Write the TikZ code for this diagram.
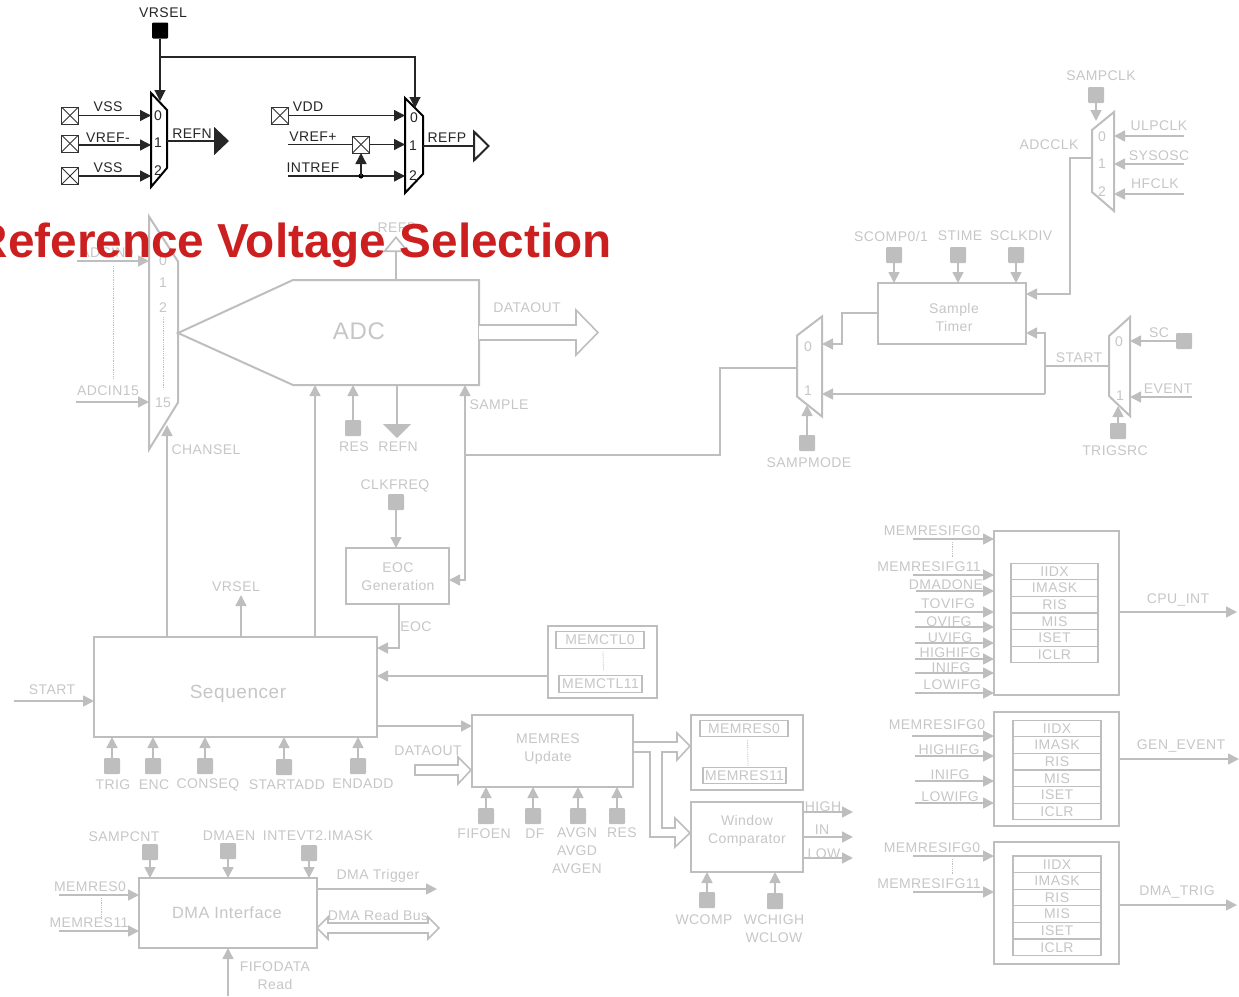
\documentclass[tikz,border=0pt]{standalone}
\usepackage{fontspec}
\setmainfont{Liberation Sans}[LetterSpace=3]
\newfontfamily\titlefont{Liberation Sans}
\usepackage{xcolor}
\usetikzlibrary{arrows.meta,calc,positioning}
\definecolor{ghost}{HTML}{BEBEBE}
\definecolor{ghosttext}{HTML}{C6C6C6}
\definecolor{alert}{HTML}{CC1F1F}
\tikzset{
  >={Triangle[length=11pt,width=11pt]},
  lbl/.style={inner sep=0pt,text=ghosttext,align=center,yshift=-1pt,font=\fontsize{14}{18}\selectfont},
  lblk/.style={lbl,text=black!85},
  blocktext/.style={lbl,font=\fontsize{15}{18}\selectfont},
  block/.style={draw=ghost,line width=2pt,inner sep=0pt,outer sep=0pt,fill=white},
  regrow/.style={draw=ghost,line width=1.1pt,inner sep=0pt,outer sep=0pt,minimum width=88pt,minimum height=16.6pt,text=ghosttext,font=\fontsize{14}{14}\selectfont},
  sqpad/.style={rectangle,rounded corners=1pt,fill=ghost,minimum size=16pt,inner sep=0pt,outer sep=0pt},
  sqpadk/.style={sqpad,fill=black},
  xpad/.style={rectangle,draw=black!80,line width=1pt,minimum size=17pt,inner sep=0pt,outer sep=0pt,path picture={
    \draw[black!80,line width=.8pt] (path picture bounding box.north west) -- (path picture bounding box.south east);
    \draw[black!80,line width=.8pt] (path picture bounding box.north east) -- (path picture bounding box.south west);}},
  muxbody/.style={inner sep=0pt,outer sep=0pt},
  muxg/.style={draw=ghost,line width=2pt,line join=miter,fill=white},
  muxk/.style={draw=black,line width=2pt,line join=miter,fill=white},
  gsig/.style={draw=ghost,line width=1.6pt,color=ghost},
  ksig/.style={draw=black!85,line width=1.1pt,color=black!85},
  bus/.style={draw=ghost,line width=1.6pt,fill=white,line join=miter},
  gdots/.style={draw=ghost,line width=.8pt,densely dotted},
}
\begin{document}
\begin{tikzpicture}[x=1pt,y=-1pt,node distance=0pt]
  \useasboundingbox (0,0) rectangle (1239,996);

  % adc input mux
  \node[muxbody,minimum width=29pt,minimum height=233pt] (muxadc) at (163.5,333) {};
  \draw[muxg] (muxadc.north west) -- ($(muxadc.north east)+(0,45)$) -- ($(muxadc.south east)+(0,-47)$) -- (muxadc.south west) -- cycle;
  \node[lbl] (m0) at (163,260) {0};
  \node[lbl] (m1) at (163,282) {1};
  \node[lbl] (m2) at (163,307) {2};
  \node[lbl] (m15) at (163,402) {15};
  \coordinate (in0) at (77,261);
  \coordinate (in15) at (76,402);
  \draw[gsig,->] (in0) -- (in0 -| muxadc.west);
  \draw[gsig,->] (in15) -- (in15 -| muxadc.west);
  \node[lbl] (lin0) at (107,252) {ADCIN0};
  \node[lbl] (lin15) at (108,390) {ADCIN15};
  \coordinate (d1a) at (113,266);
  \coordinate (d1b) at (113,378);
  \coordinate (d2a) at (163,317);
  \coordinate (d2b) at (163,388);
  \draw[gdots] (d1a) -- (d1b);
  \draw[gdots] (d2a) -- (d2b);

  % adc
  \node[muxbody,minimum width=186pt,minimum height=105pt] (adc) at (386,332.5) {};
  \draw[block] (adc.north east) -- (adc.north west) -- (muxadc.east) -- (adc.south west) -- (adc.south east) -- cycle;
  \node[lbl,font=\fontsize{24}{24}\selectfont] (ladc) at (359,330) {ADC};
  \coordinate (refpin) at (396,236);
  \draw[gsig,-{Triangle[open,fill=white,length=16pt,width=26pt]}] (refpin |- adc.north) -- (refpin);
  \node[lbl] (lrefp) at (397,227) {REFP};
  \draw[bus] ($(adc.east)+(0,-7.5)$) -- ++(97,0) -- ++(0,-15) -- ++(22,22.5) -- ++(-22,22.5) -- ++(0,-15) -- ++(-97,0);
  \node[lbl] (ldata) at (527,307) {DATAOUT};
  \node[sqpad] (pres) at (353,428) {};
  \draw[gsig,->] (pres) -- (pres |- adc.south);
  \coordinate (refn) at (397,438);
  \draw[gsig,-{Triangle[length=14pt,width=28pt]}] (refn |- adc.south) -- (refn);
  \node[lbl] (lres) at (354,446) {RES};
  \node[lbl] (lrefn) at (398,446) {REFN};
  \node[lbl] (lsample) at (499,404) {SAMPLE};

  % eoc and sequencer
  \node[lbl] (lclk) at (395,485) {CLKFREQ};
  \node[sqpad] (pclk) at (396,502) {};
  \node[block,minimum width=103pt,minimum height=56pt] (eoc) at (397.5,576) {};
  \node[blocktext,font=\fontsize{14}{18}\selectfont] (leoc) at (398,576) {EOC\\Generation};
  \draw[gsig,->] (pclk) -- (pclk |- eoc.north);
  \node[block,minimum width=283pt,minimum height=100pt] (seq) at (235.5,687) {};
  \node[lbl,font=\fontsize{19}{19}\selectfont] (lseq) at (238,693) {Sequencer};
  \coordinate (sam) at (465,455);
  \coordinate (eocin) at (465,580);
  \draw[gsig,->] (sam) -- (sam |- adc.south);
  \draw[gsig,->] (sam) -- (eocin) -- (eocin -| eoc.east);
  \coordinate (chan) at (167,425);
  \coordinate (conv) at (315,385);
  \coordinate (vrs) at (241,595);
  \draw[gsig,->] (chan |- seq.north) -- (chan);
  \draw[gsig,->] (conv |- seq.north) -- (conv);
  \draw[gsig,->] (vrs |- seq.north) -- (vrs);
  \node[lbl] (lchan) at (206,449) {CHANSEL};
  \node[lbl] (lvrs) at (236,586) {VRSEL};
  \coordinate (eocout) at (399,648);
  \draw[gsig,->] (eocout |- eoc.south) -- (eocout) -- (eocout -| seq.east);
  \node[lbl] (leo) at (416,626) {EOC};
  \coordinate (st) at (14,701);
  \draw[gsig,->] (st) -- (st -| seq.west);
  \node[lbl] (lst) at (52,689) {START};
  \node[sqpad] (ptrig) at (112,766) {};
  \node[sqpad] (penc) at (153,766) {};
  \node[sqpad] (pcon) at (205,766) {};
  \node[sqpad] (pstart) at (284,767) {};
  \node[sqpad] (pend) at (358,766) {};
  \draw[gsig,->] (ptrig) -- (ptrig |- seq.south);
  \draw[gsig,->] (penc) -- (penc |- seq.south);
  \draw[gsig,->] (pcon) -- (pcon |- seq.south);
  \draw[gsig,->] (pstart) -- (pstart |- seq.south);
  \draw[gsig,->] (pend) -- (pend |- seq.south);
  \node[lbl] (ltrig) at (113,784) {TRIG};
  \node[lbl] (lenc) at (154,784) {ENC};
  \node[lbl] (lcon) at (208,784) {CONSEQ};
  \node[lbl] (lstart) at (287,784) {STARTADD};
  \node[lbl] (lend) at (363,783) {ENDADD};

  % memctl
  \node[block,minimum width=109pt,minimum height=72pt] (memctl) at (602.5,662) {};
  \node[regrow,minimum width=88pt] (mc0) at (600,640) {MEMCTL0};
  \node[regrow,minimum width=83pt] (mc11) at (600.5,684) {MEMCTL11};
  \draw[gdots] ($(mc0.south)+(3,3)$) -- ($(mc11.north)+(3,-5)$);
  \coordinate (ctl) at (548,676);
  \draw[gsig,->] (ctl) -- (ctl -| seq.east);

  % memres update
  \node[block,minimum width=161pt,minimum height=72pt] (upd) at (552.5,751) {};
  \node[blocktext,font=\fontsize{14}{18}\selectfont] (lupd) at (548,748) {MEMRES\\Update};
  \coordinate (sq) at (377,726);
  \draw[gsig,->] (sq) -- (sq -| upd.west);
  \coordinate (ddin) at (415,770);
  \draw[bus] (ddin) ++(0,-5) -- ++(43,0) -- ++(0,-8) -- ++(13,13) -- ++(-13,14) -- ++(0,-9) -- ++(-43,0) -- cycle;
  \node[lbl] (ldd) at (428,750) {DATAOUT};
  \node[sqpad] (pfifo) at (486,816) {};
  \node[sqpad] (pdf) at (533,816) {};
  \node[sqpad] (pavg) at (578,816) {};
  \node[sqpad] (pres2) at (617,816) {};
  \draw[gsig,->] (pfifo) -- (pfifo |- upd.south);
  \draw[gsig,->] (pdf) -- (pdf |- upd.south);
  \draw[gsig,->] (pavg) -- (pavg |- upd.south);
  \draw[gsig,->] (pres2) -- (pres2 |- upd.south);
  \node[lbl] (lfifo) at (484,833) {FIFOEN};
  \node[lbl] (ldf) at (535,833) {DF};
  \node[lbl] (lavg) at (577,850) {AVGN\\AVGD\\AVGEN};
  \node[lbl] (lres2) at (622,832) {RES};

  % memres and window comparator
  \node[block,minimum width=112pt,minimum height=75pt] (mres) at (747,752.5) {};
  \node[regrow,minimum width=88pt] (mr0) at (744,728.5) {MEMRES0};
  \node[regrow,minimum width=83pt] (mr11) at (744.5,775.5) {MEMRES11};
  \draw[gdots] ($(mr0.south)+(3.5,3)$) -- ($(mr11.north)+(3.5,-1)$);
  \node[block,minimum width=112pt,minimum height=70pt] (win) at (747,837) {};
  \node[blocktext,font=\fontsize{14}{18}\selectfont] (lwin) at (747,830) {Window\\Comparator};
  \draw[bus,fill=none] (633,742) -- (677,742) -- (677,733) -- (690,746) -- (677,760) -- (677,752) -- (662,752) -- (662,828) -- (675,828) -- (675,818) -- (690,833) -- (675,847) -- (675,837) -- (650,837) -- (650,752) -- (633,752);
  \coordinate (hi) at (853,812);
  \coordinate (iin) at (853,837);
  \coordinate (lo) at (853,858);
  \draw[gsig,->] (hi -| win.east) -- (hi);
  \draw[gsig,->] (iin -| win.east) -- (iin);
  \draw[gsig,->] (lo -| win.east) -- (lo);
  \node[lbl] (lhi) at (823,806) {HIGH};
  \node[lbl] (lin) at (822,829) {IN};
  \node[lbl] (llo) at (824,853) {LOW};
  \node[sqpad] (pwc) at (707,900) {};
  \node[sqpad] (pwh) at (775,901) {};
  \draw[gsig,->] (pwc) -- (pwc |- win.south);
  \draw[gsig,->] (pwh) -- (pwh |- win.south);
  \node[lbl] (lwc) at (704,919) {WCOMP};
  \node[lbl] (lwh) at (774,928) {WCHIGH\\WCLOW};

  % dma interface
  \node[block,minimum width=178pt,minimum height=70pt] (dma) at (228,913) {};
  \node[lbl,font=\fontsize{16.3}{17}\selectfont] (ldma) at (227,912) {DMA Interface};
  \node[sqpad] (pcnt) at (150,852) {};
  \node[sqpad] (pden) at (228,851) {};
  \node[sqpad] (pint) at (309,853) {};
  \draw[gsig,->] (pcnt) -- (pcnt |- dma.north);
  \draw[gsig,->] (pden) -- (pden |- dma.north);
  \draw[gsig,->] (pint) -- (pint |- dma.north);
  \node[lbl] (lcnt) at (124,836) {SAMPCNT};
  \node[lbl] (lden) at (229,835) {DMAEN};
  \node[lbl] (lint) at (318,835) {INTEVT2.IMASK};
  \coordinate (dm0) at (59,895);
  \coordinate (dm11) at (59,931);
  \draw[gsig,->] (dm0) -- (dm0 -| dma.west);
  \draw[gsig,->] (dm11) -- (dm11 -| dma.west);
  \node[lbl] (ldm0) at (90,886) {MEMRES0};
  \node[lbl] (ldm11) at (89,922) {MEMRES11};
  \coordinate (d3a) at (101,898);
  \coordinate (d3b) at (101,918);
  \draw[gdots] (d3a) -- (d3b);
  \coordinate (dtr) at (437,889);
  \draw[gsig,->] (dtr -| dma.east) -- (dtr);
  \node[lbl] (ldtr) at (378,875) {DMA Trigger};
  \coordinate (rdb) at (317,928);
  \draw[bus] (rdb) -- ++(11,-11) -- ++(0,6) -- ++(100,0) -- ++(0,-6) -- ++(11,11) -- ++(-11,11) -- ++(0,-6) -- ++(-100,0) -- ++(0,6) -- cycle;
  \node[lbl] (lrdb) at (378,914) {DMA Read Bus};
  \coordinate (ff) at (228,996);
  \draw[gsig,->] (ff) -- (ff |- dma.south);
  \node[lbl] (lff) at (275,975) {FIFODATA\\Read};

  % sample timer
  \node[block,minimum width=148pt,minimum height=61pt] (tim) at (952,313.5) {};
  \node[blocktext,font=\fontsize{14}{18}\selectfont] (ltim) at (954,316) {Sample\\Timer};
  \node[sqpad] (psc) at (894,255) {};
  \node[sqpad] (pst) at (958,255) {};
  \node[sqpad] (pcd) at (1016,255) {};
  \draw[gsig,->] (psc) -- (psc |- tim.north);
  \draw[gsig,->] (pst) -- (pst |- tim.north);
  \draw[gsig,->] (pcd) -- (pcd |- tim.north);
  \node[lbl] (lsc) at (891,235) {SCOMP0/1};
  \node[lbl] (lst2) at (960,235) {STIME};
  \node[lbl] (lcd) at (1021,235) {SCLKDIV};

  % clock mux
  \node[muxbody,minimum width=22pt,minimum height=99pt] (muxclk) at (1103,161.5) {};
  \draw[muxg] (muxclk.north east) -- ($(muxclk.north west)+(0,18)$) -- ($(muxclk.south west)+(0,-19)$) -- (muxclk.south east) -- cycle;
  \node[lbl] (c0) at (1102,136) {0};
  \node[lbl] (c1) at (1102,163) {1};
  \node[lbl] (c2) at (1102,191) {2};
  \coordinate (ulp) at (1184,136);
  \coordinate (sys) at (1184,164);
  \coordinate (hf) at (1184,194);
  \draw[gsig,->] (ulp) -- (ulp -| muxclk.east);
  \draw[gsig,->] (sys) -- (sys -| muxclk.east);
  \draw[gsig,->] (hf) -- (hf -| muxclk.east);
  \node[lbl] (lulp) at (1159,125) {ULPCLK};
  \node[lbl] (lsys) at (1159,155) {SYSOSC};
  \node[lbl] (lhf) at (1155,183) {HFCLK};
  \node[sqpad] (pclk2) at (1096,95) {};
  \coordinate (clktip) at (1096,121);
  \draw[gsig,->] (pclk2) -- (clktip);
  \node[lbl] (lclk2) at (1101,75) {SAMPCLK};
  \coordinate (ckb1) at (1070,158);
  \coordinate (ckb2) at (1070,294);
  \draw[gsig,->] (ckb1 -| muxclk.west) -- (ckb1) -- (ckb2) -- (ckb2 -| tim.east);
  \node[lbl] (lck) at (1049,144) {ADCCLK};

  % sample mode mux
  \node[muxbody,minimum width=25pt,minimum height=100pt] (muxsmp) at (809.5,366.5) {};
  \draw[muxg] (muxsmp.north east) -- ($(muxsmp.north west)+(0,19)$) -- ($(muxsmp.south west)+(0,-20)$) -- (muxsmp.south east) -- cycle;
  \node[lbl] (s0) at (808,346) {0};
  \node[lbl] (s1) at (808,390) {1};
  \coordinate (tq1) at (842,313);
  \coordinate (tq2) at (842,344);
  \draw[gsig,->] (tq1 -| tim.west) -- (tq1) -- (tq2) -- (tq2 -| muxsmp.east);
  \coordinate (sq1) at (720,368);
  \draw[gsig] (muxsmp.west |- sq1) -- (sq1) -- (sq1 |- sam) -- (sam);
  \node[sqpad] (psm) at (807,443) {};
  \coordinate (smtip) at (807,405);
  \draw[gsig,->] (psm) -- (smtip);
  \node[lbl] (lsm) at (809,462) {SAMPMODE};

  % trigger mux
  \node[muxbody,minimum width=21pt,minimum height=99pt] (muxtrg) at (1119.5,366.5) {};
  \draw[muxg] (muxtrg.north east) -- ($(muxtrg.north west)+(0,19)$) -- ($(muxtrg.south west)+(0,-20)$) -- (muxtrg.south east) -- cycle;
  \node[lbl] (t0) at (1119,341) {0};
  \node[lbl] (t1) at (1120,395) {1};
  \coordinate (stb) at (1045,366);
  \coordinate (stt) at (1045,333);
  \coordinate (stl) at (1045,394);
  \draw[gsig] (muxtrg.west |- stb) -- (stb);
  \draw[gsig,->] (stl) -- (stt) -- (stt -| tim.east);
  \draw[gsig,->] (stl) -- (stl -| muxsmp.east);
  \node[lbl] (lstt) at (1079,357) {START};
  \node[sqpad] (psc2) at (1184,341) {};
  \draw[gsig,->] (psc2) -- (psc2 -| muxtrg.east);
  \node[lbl] (lsc2) at (1159,332) {SC};
  \coordinate (ev) at (1192,397);
  \draw[gsig,->] (ev) -- (ev -| muxtrg.east);
  \node[lbl] (lev) at (1168,388) {EVENT};
  \node[sqpad] (ptrg) at (1118,431) {};
  \coordinate (trgtip) at (1118,406);
  \draw[gsig,->] (ptrg) -- (trgtip);
  \node[lbl] (ltrg) at (1115,450) {TRIGSRC};

  % cpu interrupt registers
  \node[block,minimum width=125pt,minimum height=164pt] (cpu) at (1056.5,613) {};
  \node[regrow,minimum width=87pt] (a1) at (1054.5,571.5) {IIDX};
  \node[regrow,minimum width=87pt,below=of a1] (a2) {IMASK};
  \node[regrow,minimum width=87pt,below=of a2] (a3) {RIS};
  \node[regrow,minimum width=87pt,below=of a3] (a4) {MIS};
  \node[regrow,minimum width=87pt,below=of a4] (a5) {ISET};
  \node[regrow,minimum width=87pt,below=of a5] (a6) {ICLR};
  \coordinate (ca1) at (913,539);
  \coordinate (ca2) at (913,575);
  \coordinate (ca3) at (916,591);
  \coordinate (ca4) at (915,612);
  \coordinate (ca5) at (915,627);
  \coordinate (ca6) at (915,643);
  \coordinate (ca7) at (915,659);
  \coordinate (ca8) at (915,673);
  \coordinate (ca9) at (915,693);
  \draw[gsig,->] (ca1) -- (ca1 -| cpu.west);
  \draw[gsig,->] (ca2) -- (ca2 -| cpu.west);
  \draw[gsig,->] (ca3) -- (ca3 -| cpu.west);
  \draw[gsig,->] (ca4) -- (ca4 -| cpu.west);
  \draw[gsig,->] (ca5) -- (ca5 -| cpu.west);
  \draw[gsig,->] (ca6) -- (ca6 -| cpu.west);
  \draw[gsig,->] (ca7) -- (ca7 -| cpu.west);
  \draw[gsig,->] (ca8) -- (ca8 -| cpu.west);
  \draw[gsig,->] (ca9) -- (ca9 -| cpu.west);
  \node[lbl] (la1) at (932,530) {MEMRESIFG0};
  \node[lbl] (la2) at (929,566) {MEMRESIFG11};
  \node[lbl] (la3) at (946,584) {DMADONE};
  \node[lbl] (la4) at (948,603) {TOVIFG};
  \node[lbl] (la5) at (949,621) {OVIFG};
  \node[lbl] (la6) at (950,637) {UVIFG};
  \node[lbl] (la7) at (950,652) {HIGHIFG};
  \node[lbl] (la8) at (951,667) {INIFG};
  \node[lbl] (la9) at (952,684) {LOWIFG};
  \coordinate (d4a) at (952,542);
  \coordinate (d4b) at (952,558);
  \draw[gdots] (d4a) -- (d4b);
  \coordinate (cpuout) at (1237,612);
  \draw[gsig,->] (cpuout -| cpu.east) -- (cpuout);
  \node[lbl] (lcpu) at (1178,599) {CPU\_INT};

  % gen event registers
  \node[block,minimum width=125pt,minimum height=114pt] (gen) at (1056.5,769) {};
  \node[regrow] (b1) at (1057,728.5) {IIDX};
  \node[regrow,below=of b1] (b2) {IMASK};
  \node[regrow,below=of b2] (b3) {RIS};
  \node[regrow,below=of b3] (b4) {MIS};
  \node[regrow,below=of b4] (b5) {ISET};
  \node[regrow,below=of b5] (b6) {ICLR};
  \coordinate (cb1) at (912,736);
  \coordinate (cb2) at (915,756);
  \coordinate (cb3) at (915,781);
  \coordinate (cb4) at (915,803);
  \draw[gsig,->] (cb1) -- (cb1 -| gen.west);
  \draw[gsig,->] (cb2) -- (cb2 -| gen.west);
  \draw[gsig,->] (cb3) -- (cb3 -| gen.west);
  \draw[gsig,->] (cb4) -- (cb4 -| gen.west);
  \node[lbl] (lb1) at (937,724) {MEMRESIFG0};
  \node[lbl] (lb2) at (949,749) {HIGHIFG};
  \node[lbl] (lb3) at (950,774) {INIFG};
  \node[lbl] (lb4) at (950,796) {LOWIFG};
  \coordinate (genout) at (1239,759);
  \draw[gsig,->] (genout -| gen.east) -- (genout);
  \node[lbl] (lgen) at (1181,745) {GEN\_EVENT};

  % dma trigger registers
  \node[block,minimum width=125pt,minimum height=122pt] (trg) at (1056.5,903) {};
  \node[regrow] (e1) at (1057,864.3) {IIDX};
  \node[regrow,below=of e1] (e2) {IMASK};
  \node[regrow,below=of e2] (e3) {RIS};
  \node[regrow,below=of e3] (e4) {MIS};
  \node[regrow,below=of e4] (e5) {ISET};
  \node[regrow,below=of e5] (e6) {ICLR};
  \coordinate (ce1) at (913,856);
  \coordinate (ce2) at (913,892);
  \draw[gsig,->] (ce1) -- (ce1 -| trg.west);
  \draw[gsig,->] (ce2) -- (ce2 -| trg.west);
  \node[lbl] (le1) at (932,847) {MEMRESIFG0};
  \node[lbl] (le2) at (929,883) {MEMRESIFG11};
  \coordinate (d5a) at (952,859);
  \coordinate (d5b) at (952,875);
  \draw[gdots] (d5a) -- (d5b);
  \coordinate (trgout) at (1237,905);
  \draw[gsig,->] (trgout -| trg.east) -- (trgout);
  \node[lbl] (ltrgo) at (1177,891) {DMA\_TRIG};

  % reference selection
  \node[sqpadk] (vrsel) at (160,30.5) {};
  \node[lblk] (lvrsel) at (163,12) {VRSEL};
  \coordinate (tipn) at (160,101);
  \coordinate (tipp) at (415,108);
  \coordinate (vbr) at (160,57);
  \node[muxbody,minimum width=16pt,minimum height=94pt] (muxn) at (159,140) {};
  \draw[muxk] (muxn.north west) -- ($(muxn.north east)+(0,17)$) -- ($(muxn.south east)+(0,-19)$) -- (muxn.south west) -- cycle;
  \node[muxbody,minimum width=18pt,minimum height=95pt] (muxp) at (414,145.5) {};
  \draw[muxk] (muxp.north west) -- ($(muxp.north east)+(0,18)$) -- ($(muxp.south east)+(0,-19)$) -- (muxp.south west) -- cycle;
  \draw[ksig,->] (vrsel) -- (tipn);
  \draw[ksig,->] (vbr) -| (tipp);
  \node[lblk] (n0) at (158,115) {0};
  \node[lblk] (n1) at (158,142) {1};
  \node[lblk] (n2) at (158,170) {2};
  \node[lblk] (p0) at (414,117) {0};
  \node[lblk] (p1) at (413,145) {1};
  \node[lblk] (p2) at (413,175) {2};
  \node[xpad] (xa) at (70,115.5) {};
  \node[xpad] (xb) at (70,143.5) {};
  \node[xpad] (xc) at (70,176) {};
  \node[xpad] (xd) at (280,115.5) {};
  \node[xpad] (xe) at (361,144.5) {};
  \coordinate (xbo) at (78.5,145);
  \coordinate (ref) at (288,144.5);
  \coordinate (itr) at (288,176);
  \draw[ksig,line width=1.4pt,->] (xa) -- (xa -| muxn.west);
  \draw[ksig,line width=1.4pt,->] (xbo) -- (xbo -| muxn.west);
  \draw[ksig,line width=1.4pt,->] (xc) -- (xc -| muxn.west);
  \draw[ksig,line width=1.4pt,->] (xd) -- (xd -| muxp.west);
  \draw[ksig,line width=1.4pt] (ref) -- (xe);
  \draw[ksig,line width=1.4pt,->] (xe) -- (xe -| muxp.west);
  \draw[ksig,line width=1.4pt,->] (itr) -- (itr -| muxp.west);
  \coordinate (dotin) at (361,176);
  \fill[black] (dotin) circle (2.6pt);
  \draw[ksig,line width=1.4pt,->] (dotin) -- (xe);
  \coordinate (refnk) at (229,141);
  \coordinate (refpk) at (490,146);
  \draw[ksig,line width=2pt,-{Triangle[length=15pt,width=28pt]}] (refnk -| muxn.east) -- (refnk);
  \draw[ksig,line width=2pt,-{Triangle[open,fill=white,length=17pt,width=33pt]}] (refpk -| muxp.east) -- (refpk);
  \node[lblk] (lka) at (108,106) {VSS};
  \node[lblk] (lkb) at (108,137) {VREF-};
  \node[lblk] (lkc) at (108,167) {VSS};
  \node[lblk] (lkd) at (308,106) {VDD};
  \node[lblk] (lke) at (313,136) {VREF+};
  \node[lblk] (lkf) at (313,167) {INTREF};
  \node[lblk] (lkn) at (192,133) {REFN};
  \node[lblk] (lkp) at (447,137) {REFP};

  \node[anchor=base east,inner sep=0pt,text=alert,font=\titlefont\bfseries\fontsize{47.7}{48}\selectfont] (title) at (612,257) {Reference Voltage Selection};
\end{tikzpicture}
\end{document}
